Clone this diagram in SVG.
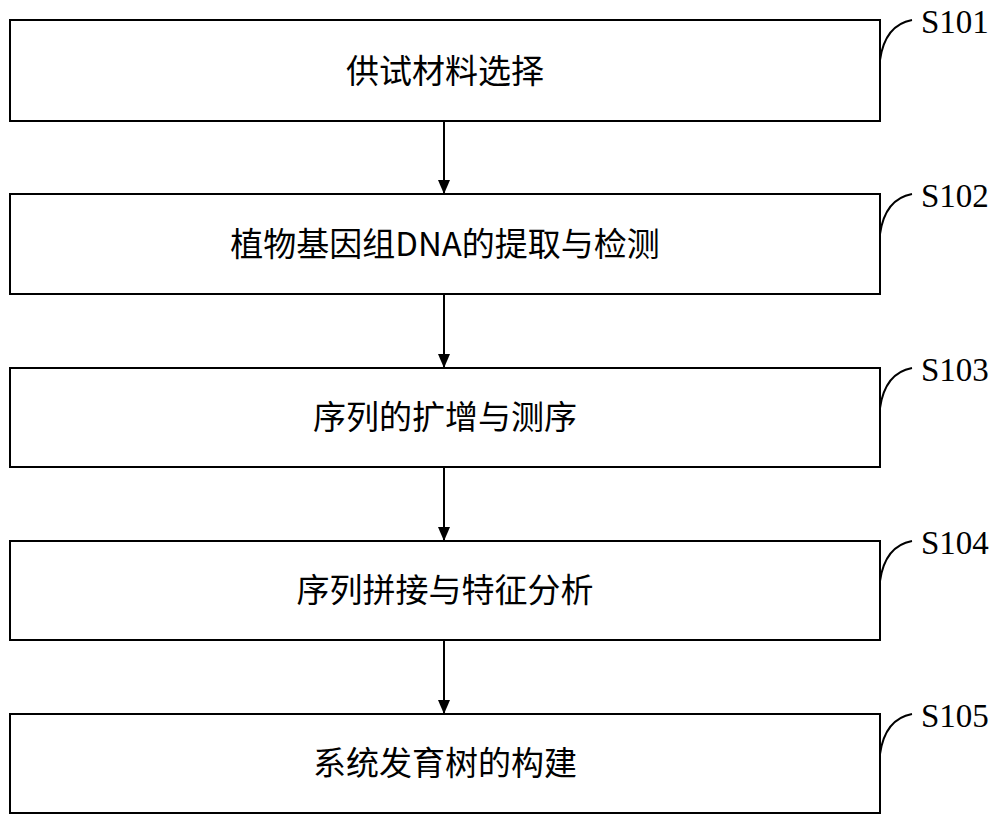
<svg xmlns="http://www.w3.org/2000/svg" width="1000" height="830" viewBox="0 0 1000 830">
<defs>
<marker id="ar" markerWidth="14" markerHeight="12" refX="14" refY="6" orient="auto" markerUnits="userSpaceOnUse"><path d="M0,0 L14,6 L0,12 Z" fill="#000"/></marker>
</defs>
<style>
.b{fill:#fff;stroke:#000;stroke-width:2}
.t{font-family:"Noto Sans CJK SC","Liberation Serif",sans-serif;font-size:33px;text-anchor:middle;fill:#000}
.s{font-family:"Liberation Serif",serif;font-size:33px;fill:#000}
.c{fill:none;stroke:#000;stroke-width:2}
</style>
<rect width="1000" height="830" fill="#fff"/>
<g id="connectors">
<line class="c" x1="444" y1="121" x2="444" y2="194" marker-end="url(#ar)"/>
<line class="c" x1="444" y1="294" x2="444" y2="368" marker-end="url(#ar)"/>
<line class="c" x1="444" y1="467" x2="444" y2="541" marker-end="url(#ar)"/>
<line class="c" x1="444" y1="640" x2="444" y2="714" marker-end="url(#ar)"/>
</g>
<g id="n1"><rect class="b" x="10" y="20" width="870" height="101"/><text class="t" x="445" y="83">供试材料选择</text><path class="c" d="M880,60 Q885,25 912,20"/><text class="s" x="921" y="33">S101</text></g>
<g id="n2"><rect class="b" x="10" y="194" width="870" height="100"/><text class="t" x="445" y="256">植物基因组DNA的提取与检测</text><path class="c" d="M880,234 Q885,199 912,194"/><text class="s" x="921" y="207">S102</text></g>
<g id="n3"><rect class="b" x="10" y="368" width="870" height="99"/><text class="t" x="445" y="429">序列的扩增与测序</text><path class="c" d="M880,408 Q885,373 912,368"/><text class="s" x="921" y="381">S103</text></g>
<g id="n4"><rect class="b" x="10" y="541" width="870" height="99"/><text class="t" x="445" y="602">序列拼接与特征分析</text><path class="c" d="M880,581 Q885,546 912,541"/><text class="s" x="921" y="554">S104</text></g>
<g id="n5"><rect class="b" x="10" y="714" width="870" height="99"/><text class="t" x="445" y="775">系统发育树的构建</text><path class="c" d="M880,754 Q885,719 912,714"/><text class="s" x="921" y="727">S105</text></g>
</svg>
